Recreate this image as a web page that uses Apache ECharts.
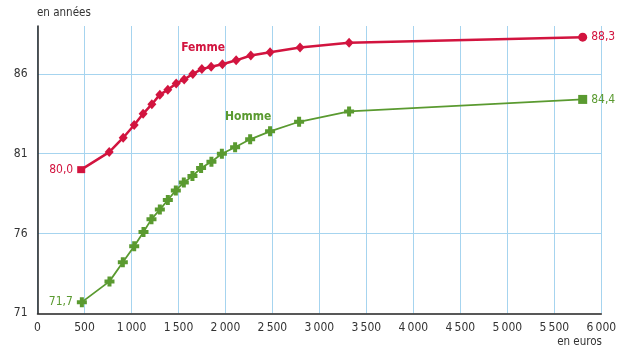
<!DOCTYPE html>
<html><head><meta charset="utf-8">
<script src="https://cdn.jsdelivr.net/npm/echarts@6/dist/echarts.min.js"></script>
<style>html,body{margin:0;padding:0;background:#fff}#c{width:624px;height:351px}</style>
</head><body><div id="c"></div>
<script>
const femmeX = [465, 763, 912, 1029, 1124, 1217, 1302, 1387, 1476, 1561, 1653, 1749, 1848, 1968, 2114, 2270, 2475, 2794, 3316, 5802];
const femmeY = [80.0, 81.1, 82.0, 82.8, 83.5, 84.1, 84.7, 85.0, 85.4, 85.65, 86.0, 86.3, 86.45, 86.6, 86.85, 87.15, 87.35, 87.65, 87.95, 88.3];
const hommeX = [472, 766, 908, 1029, 1128, 1213, 1302, 1387, 1472, 1557, 1649, 1741, 1851, 1962, 2103, 2263, 2475, 2784, 3316, 5802];
const hommeY = [71.7, 73.0, 74.2, 75.2, 76.1, 76.9, 77.5, 78.1, 78.7, 79.2, 79.6, 80.1, 80.5, 81.0, 81.4, 81.9, 82.4, 83.0, 83.65, 84.4];
const xTicks = {min: 0, max: 6000, interval: 500};
const yTicks = {min: 71, max: 89, interval: 5};

const RED = '#d2143f', GREEN = '#5a9a30';
const FONT = '"DejaVu Sans Condensed", "Liberation Sans Narrow", "Liberation Sans", Arial, sans-serif';
const cross = 'path://M3,0H7V3H10V7H7V10H3V7H0V3H3Z';
const fmt = v => v.toFixed(1).replace('.', ',');

function build(xs, ys, color, first, last, firstSize, lastSize) {
  return xs.map((x, i) => {
    const d = {value: [x, ys[i]]};
    if (i === 0) {
      d.symbol = first; d.symbolSize = firstSize;
      d.label = {show: true, position: 'left', distance: 4, formatter: fmt(ys[i]), color: color, fontFamily: FONT, fontSize: 12};
    } else if (i === xs.length - 1) {
      d.symbol = last; d.symbolSize = lastSize;
      d.label = {show: true, position: 'right', distance: 4, formatter: fmt(ys[i]), color: color, fontFamily: FONT, fontSize: 12};
    }
    return d;
  });
}

const chart = echarts.init(document.getElementById('c'), null, {renderer: 'canvas'});
chart.setOption({
  animation: false,
  grid: {left: 37.5, right: 22.7, top: 26, bottom: 37.7, containLabel: false},
  xAxis: {
    type: 'value', min: xTicks.min, max: xTicks.max, interval: xTicks.interval,
    axisLine: {show: true, lineStyle: {color: '#222', width: 1.5}},
    axisTick: {show: false},
    axisLabel: {color: '#333', fontFamily: FONT, fontSize: 12, margin: 9,
      formatter: v => v >= 1000 ? Math.floor(v/1000) + '\u2009' + String(v % 1000).padStart(3, '0') : String(v)},
    splitLine: {show: true, lineStyle: {color: '#a6d4ef', width: 1}}
  },
  yAxis: {
    type: 'value', min: yTicks.min, max: yTicks.max, interval: yTicks.interval,
    axisLine: {show: true, lineStyle: {color: '#222', width: 1.5}},
    axisTick: {show: false},
    axisLabel: {color: '#333', fontFamily: FONT, fontSize: 12, margin: 10, showMaxLabel: false},
    splitLine: {show: true, showMaxLine: false, showMinLine: false, lineStyle: {color: '#a6d4ef', width: 1}}
  },
  graphic: [
    {type: 'text', left: 37, top: 7, style: {text: 'en années', fill: '#333', font: '11.5px ' + FONT}},
    {type: 'text', right: 22, top: 336, style: {text: 'en euros', fill: '#333', font: '11.5px ' + FONT}}
  ],
  series: [
    {
      name: 'Femme', type: 'line', z: 3,
      data: build(femmeX, femmeY, RED, 'rect', 'circle', [8, 7], 9),
      symbol: 'diamond', symbolSize: [9, 10], showAllSymbol: true,
      lineStyle: {color: RED, width: 2.5}, itemStyle: {color: RED},
      markPoint: {symbol: 'circle', symbolSize: 1, silent: true,
        itemStyle: {color: 'rgba(0,0,0,0)'},
        label: {show: true, position: 'inside', formatter: 'Femme', color: RED, fontWeight: 'bold', fontFamily: FONT, fontSize: 12},
        data: [{coord: [1763, 87.6]}]}
    },
    {
      name: 'Homme', type: 'line', z: 2,
      data: build(hommeX, hommeY, GREEN, cross, 'rect', 10, 9),
      symbol: cross, symbolSize: 10, showAllSymbol: true,
      lineStyle: {color: GREEN, width: 1.8}, itemStyle: {color: GREEN},
      markPoint: {symbol: 'circle', symbolSize: 1, silent: true,
        itemStyle: {color: 'rgba(0,0,0,0)'},
        label: {show: true, position: 'inside', formatter: 'Homme', color: GREEN, fontWeight: 'bold', fontFamily: FONT, fontSize: 12},
        data: [{coord: [2241, 83.3]}]}
    }
  ]
});
</script></body></html>
